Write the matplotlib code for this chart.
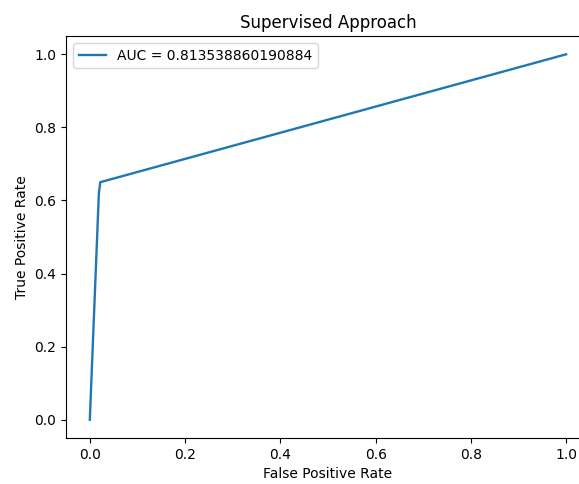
import matplotlib
matplotlib.use("Agg")
import matplotlib.pyplot as plt

# ROC curve points
fpr = [0.0, 0.019, 0.022, 1.0]
tpr = [0.0, 0.62, 0.65, 1.0]
auc_label = "AUC = 0.813538860190884"

fig = plt.figure(figsize=(5.79, 4.84), dpi=100)
# axes run a little past the right edge of the picture, as in the reference
ax = fig.add_axes([66 / 579, 46 / 484, 524 / 579, 402 / 484])
ax.plot(fpr, tpr, label=auc_label, lw=1.7)
ax.set_title("Supervised Approach")
ax.set_xlabel("False Positive Rate")
ax.set_ylabel("True Positive Rate")
ax.legend(loc="upper left")
fig.savefig("out.png", dpi=100)
